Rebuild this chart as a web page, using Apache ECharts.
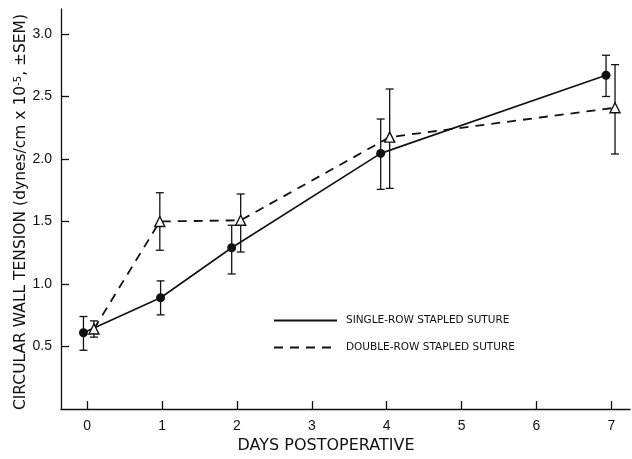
<!DOCTYPE html>
<html><head><meta charset="utf-8">
<script src="https://cdn.jsdelivr.net/npm/echarts@6/dist/echarts.min.js"></script>
<style>html,body{margin:0;padding:0;background:#fff}#c{width:632px;height:459px}</style>
</head><body><div id="c"></div>
<script>
const seriesNames = ['SINGLE-ROW STAPLED SUTURE', 'DOUBLE-ROW STAPLED SUTURE'];
const xTicks = [0, 1, 2, 3, 4, 5, 6, 7];
const yTicks = [0.5, 1.0, 1.5, 2.0, 2.5, 3.0];
// [day (slightly offset as drawn), mean]
const singleRow = [[-0.05, 0.61], [0.98, 0.89], [1.93, 1.29], [3.92, 2.045], [6.93, 2.67]];
const doubleRow = [[0.09, 0.64], [0.97, 1.50], [2.05, 1.51], [4.04, 2.175], [7.05, 2.41]];
// [day, low, high]  (±SEM)
const singleErr = [[-0.05, 0.47, 0.74], [0.98, 0.753, 1.025], [1.93, 1.08, 1.47], [3.92, 1.757, 2.32], [6.93, 2.50, 2.83]];
const doubleErr = [[0.09, 0.575, 0.705], [0.97, 1.27, 1.73], [2.05, 1.256, 1.72], [4.04, 1.765, 2.56], [7.05, 2.04, 2.755]];

const FONT = "'DejaVu Sans',sans-serif";
const NUMFONT = "'Liberation Sans',sans-serif";
const INK = '#111';

function errRender(params, api) {
  const x = api.value(0);
  const lo = api.coord([x, api.value(1)]);
  const hi = api.coord([x, api.value(2)]);
  const w = 4;
  const st = { stroke: INK, lineWidth: 1.3 };
  return { type: 'group', children: [
    { type: 'line', shape: { x1: lo[0], y1: lo[1], x2: hi[0], y2: hi[1] }, style: st },
    { type: 'line', shape: { x1: lo[0] - w, y1: lo[1], x2: lo[0] + w, y2: lo[1] }, style: st },
    { type: 'line', shape: { x1: hi[0] - w, y1: hi[1], x2: hi[0] + w, y2: hi[1] }, style: st }
  ]};
}

const chart = echarts.init(document.getElementById('c'), null, { renderer: 'canvas' });
chart.setOption({
  animation: false,
  backgroundColor: '#fff',
  grid: { left: 61, right: 2, top: 9, bottom: 50, containLabel: false, outerBoundsMode: 'none' },
  legend: {
    orient: 'vertical', left: 273, top: 315, padding: 0, itemWidth: 63, itemHeight: 10, itemGap: 16,
    data: seriesNames,
    itemStyle: { opacity: 0 },
    textStyle: { fontFamily: FONT, fontSize: 10.5, color: INK, padding: [0, 0, 0, 4] }
  },
  xAxis: {
    type: 'value', min: -0.35, max: 7.25,
    name: 'DAYS POSTOPERATIVE', nameLocation: 'middle', nameGap: 12,
    nameTextStyle: { fontFamily: FONT, fontSize: 16, color: INK, padding: [0, 39, 0, 0] },
    axisLine: { show: true, onZero: false, lineStyle: { color: INK, width: 1.3 } },
    axisTick: { show: true, inside: true, length: 8, customValues: xTicks, lineStyle: { color: INK, width: 1.3 } },
    axisLabel: { customValues: xTicks, margin: 10, fontFamily: NUMFONT, fontSize: 14, color: INK },
    splitLine: { show: false }
  },
  yAxis: {
    type: 'value', min: 0, max: 3.2,
    name: '{a|CIRCULAR WALL TENSION (dynes/cm x 10}{s|-5}{a|, ±SEM)}',
    nameLocation: 'middle', nameGap: 32, nameRotate: 90, nameMoveOverlap: false,
    nameTextStyle: { fontFamily: FONT, fontSize: 15.5, color: INK, padding: [0, 6, 0, 0],
      rich: { a: { fontFamily: FONT, fontSize: 15.5, color: INK },
              s: { fontFamily: FONT, fontSize: 10, color: INK, verticalAlign: 'top', padding: [0, 0, 6, 0] } } },
    axisLine: { show: true, onZero: false, lineStyle: { color: INK, width: 1.3 } },
    axisTick: { show: true, inside: true, length: 8, customValues: yTicks, lineStyle: { color: INK, width: 1.3 } },
    axisLabel: { customValues: yTicks, margin: 9, fontFamily: NUMFONT, fontSize: 14, color: INK,
      formatter: v => v.toFixed(1) },
    splitLine: { show: false }
  },
  series: [
    { name: seriesNames[0], type: 'line', data: singleRow, symbol: 'circle', symbolSize: 9,
      itemStyle: { color: INK }, lineStyle: { color: INK, width: 1.6 }, z: 3 },
    { name: seriesNames[1], type: 'line', data: doubleRow, symbol: 'triangle', symbolSize: 10,
      itemStyle: { color: '#fff', borderColor: INK, borderWidth: 1.4 },
      lineStyle: { color: INK, width: 1.8, type: [9, 7] }, z: 3 },
    { type: 'custom', data: singleErr, renderItem: errRender, encode: { x: 0, y: [1, 2] }, z: 2, silent: true },
    { type: 'custom', data: doubleErr, renderItem: errRender, encode: { x: 0, y: [1, 2] }, z: 2, silent: true }
  ]
});
</script></body></html>
